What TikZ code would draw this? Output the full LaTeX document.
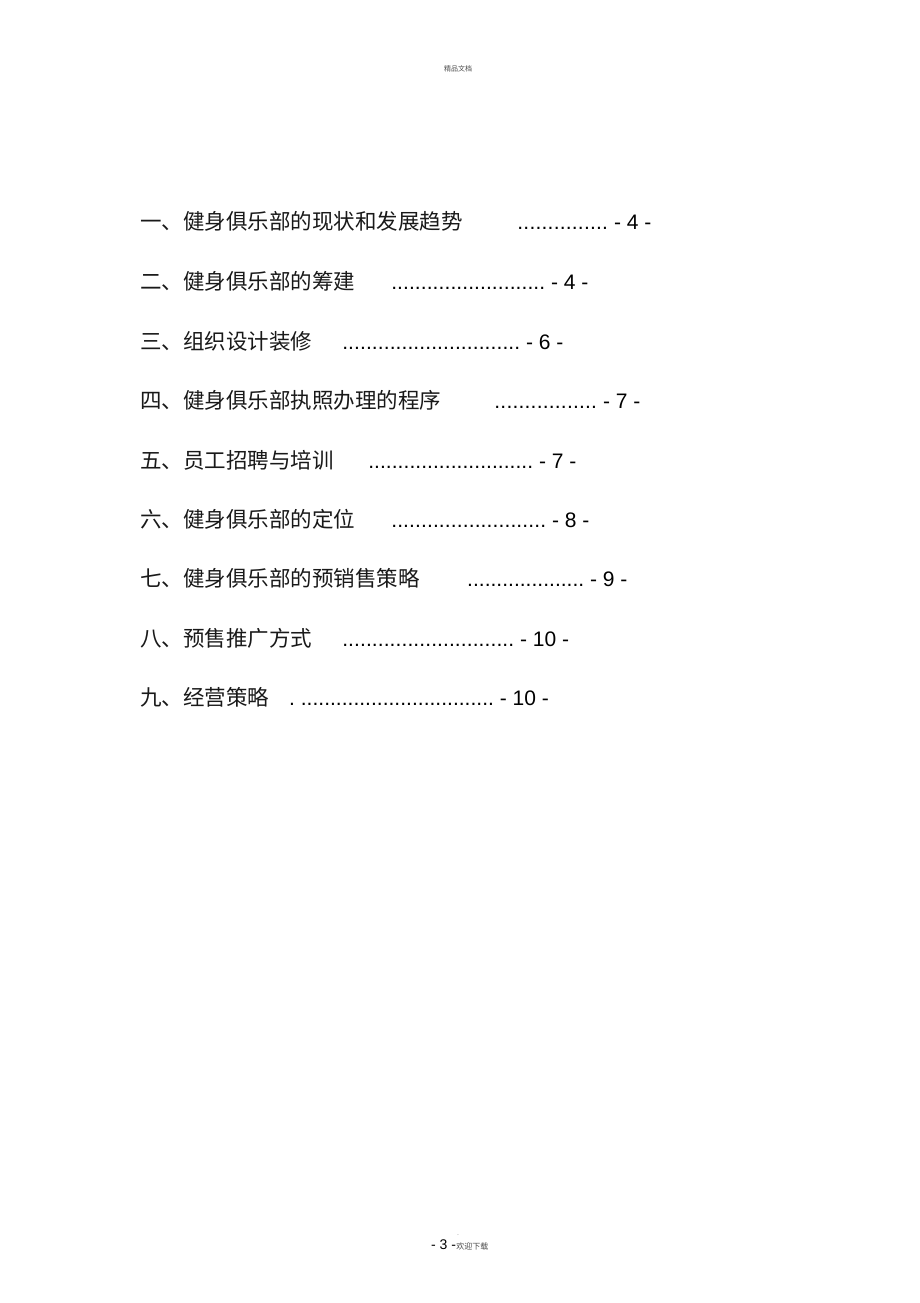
\documentclass[tikz,border=0pt]{standalone}
\usepackage{fontspec}
\setmainfont{Liberation Sans}
\newfontfamily\cjk{Noto Sans CJK SC}
\newcommand{\leaderdots}[1]{\makebox[#1pt][l]{\xleaders\hbox{.}\hfill}}
\begin{document}
\begin{tikzpicture}[x=1pt,y=-1pt,
  title/.style={anchor=base west,inner sep=0pt,font=\cjk\fontsize{21.5}{24}\selectfont,text=black!90},
  leader/.style={anchor=base west,inner sep=0pt,font=\fontsize{21}{24}\selectfont},
  small/.style={inner sep=0pt,font=\cjk\fontsize{7}{8}\selectfont,text=black!70}]
  \fill[white](0,0) rectangle (920,1303);
  \useasboundingbox (0,0) rectangle (920,1303);
  \node[small,anchor=base] (head) at (458,72) {精品文档};
  \foreach \i/\y/\txt/\x/\w/\pg in {1/229/一、健身俱乐部的现状和发展趋势/517/91/4,
      2/289/二、健身俱乐部的筹建/391/154/4,
      3/349/三、组织设计装修/342/178/6,
      4/408/四、健身俱乐部执照办理的程序/494/103/7,
      5/468/五、员工招聘与培训/368/165/7,
      6/527/六、健身俱乐部的定位/391/155/8,
      7/586/七、健身俱乐部的预销售策略/467/117/9,
      8/646/八、预售推广方式/342/172/10}{
    \node[title] (t\i) at (140,\y) {\txt};
    \node[leader] (l\i) at (\x,\y) {\leaderdots{\w}\ - \pg\ -};
  }
  \node[title] (t9) at (140,705) {九、经营策略};
  \node[leader] (l9) at (289,705) {.\ \leaderdots{193}\ - 10 -};
  \node[small,anchor=base,text=black!50] (fdot) at (458,1235) {.};
  \node[anchor=base west,inner sep=0pt,font=\fontsize{14}{16}\selectfont] (foot) at (431,1249) {- 3 -};
  \node[small,anchor=base west,font=\cjk\fontsize{8}{9}\selectfont] (footnote) at (foot.base east) {欢迎下载};
\end{tikzpicture}
\end{document}
